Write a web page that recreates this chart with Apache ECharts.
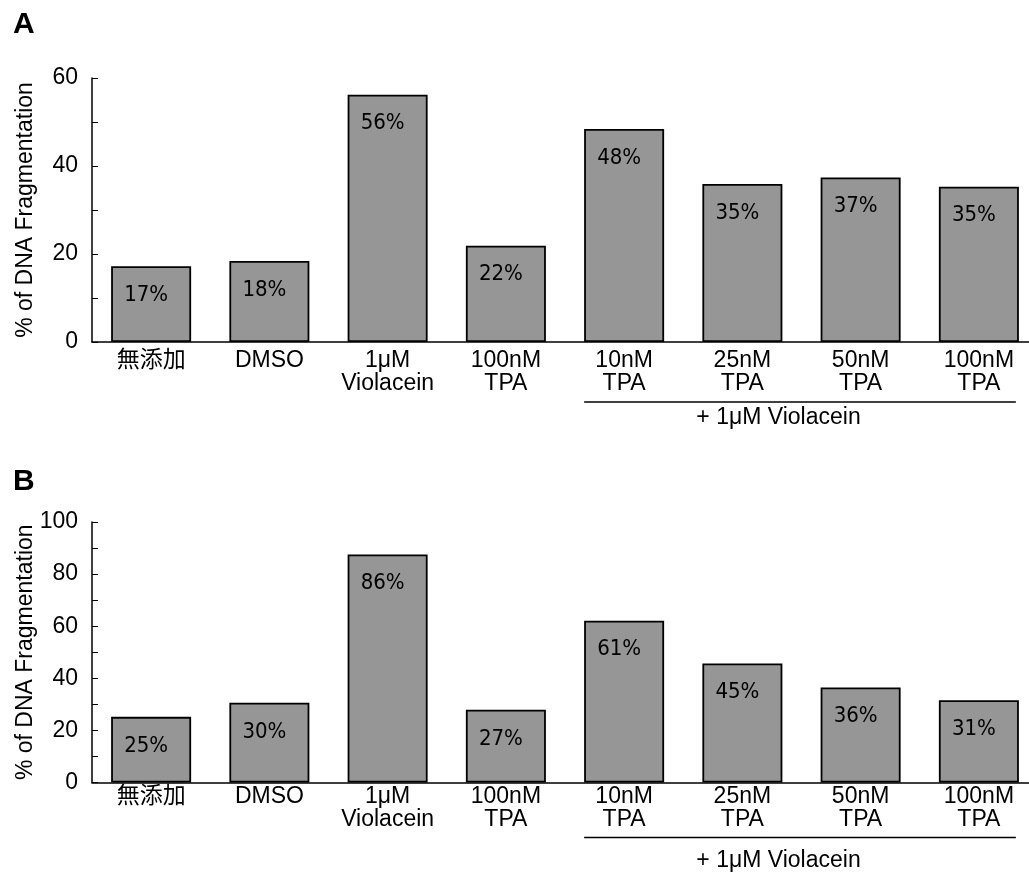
<!DOCTYPE html>
<html>
<head>
<meta charset="utf-8">
<script src="https://cdn.jsdelivr.net/npm/echarts@6/dist/echarts.min.js"></script>
<style>html,body{margin:0;padding:0;background:#fff;overflow:hidden;}#c{width:1040px;height:875px;}</style>
</head>
<body>
<div id="c"></div>
<script>
const categories = ['無添加', 'DMSO', '1μM\nViolacein', '100nM\nTPA', '10nM\nTPA', '25nM\nTPA', '50nM\nTPA', '100nM\nTPA'];
const valuesA = [17.2, 18.4, 56.2, 21.9, 48.4, 35.9, 37.4, 35.3];
const labelsA = ['17%', '18%', '56%', '22%', '48%', '35%', '37%', '35%'];
const valuesB = [25.2, 30.6, 87.5, 27.9, 62.1, 45.7, 36.5, 31.6];
const labelsB = ['25%', '30%', '86%', '27%', '61%', '45%', '36%', '31%'];
const yTitle = '% of DNA Fragmentation';
const groupText = '+ 1μM Violacein';

const FONT = "'Liberation Sans', Arial, 'Noto Sans CJK JP', sans-serif";
const NARROW = "'Liberation Sans Narrow', 'DejaVu Sans Condensed', 'Liberation Sans', sans-serif";

const chart = echarts.init(document.getElementById('c'), null, {renderer: 'canvas'});

function xAxis(gi, margin) {
  return {
    type: 'category', gridIndex: gi, data: categories,
    axisLine: {lineStyle: {color: '#000', width: 1.5}},
    axisTick: {show: false},
    axisLabel: {color: '#000', fontSize: 23, fontFamily: FONT, lineHeight: 23, margin: margin, interval: 0}
  };
}
function yAxis(gi, max) {
  return {
    type: 'value', gridIndex: gi, min: 0, max: max, interval: 10,
    name: yTitle, nameLocation: 'middle', nameGap: 55, nameMoveOverlap: false,
    nameTextStyle: {color: '#000', fontSize: 23, fontFamily: FONT},
    axisLine: {show: true, lineStyle: {color: '#000', width: 1.5}},
    axisTick: {show: true, inside: true, length: 6, lineStyle: {color: '#000', width: 1}},
    splitLine: {show: false},
    axisLabel: {color: '#000', fontSize: 23, fontFamily: FONT, margin: 14,
      formatter: v => (v % 20 === 0 ? String(v) : '')}
  };
}
function series(gi, vals, labs) {
  return {
    type: 'bar', xAxisIndex: gi, yAxisIndex: gi, data: vals, barWidth: 80,
    itemStyle: {color: '#969696', borderColor: '#000', borderWidth: 1.8},
    label: {show: true, position: 'insideTop', distance: 18, offset: [-5, 0], color: '#000',
      fontSize: 22, fontFamily: NARROW,
      formatter: p => labs[p.dataIndex]},
    silent: true
  };
}

chart.setOption({
  animation: false,
  backgroundColor: '#fff',
  title: [
    {text: 'A', left: 8, top: 5, textStyle: {fontSize: 30, fontWeight: 'bold', color: '#000', fontFamily: FONT}},
    {text: 'B', left: 8, top: 462, textStyle: {fontSize: 30, fontWeight: 'bold', color: '#000', fontFamily: FONT}}
  ],
  grid: [
    {left: 92, top: 78, width: 946, height: 264, outerBoundsMode: 'none', containLabel: false},
    {left: 92, top: 522, width: 946, height: 260.5, outerBoundsMode: 'none', containLabel: false}
  ],
  xAxis: [xAxis(0, 7), xAxis(1, 3)],
  yAxis: [yAxis(0, 60), yAxis(1, 100)],
  series: [series(0, valuesA, labelsA), series(1, valuesB, labelsB)]
});

function groupGraphic(gi, lineY, textY) {
  const x1 = chart.convertToPixel({xAxisIndex: gi}, categories[4]) - 40;
  const x2 = chart.convertToPixel({xAxisIndex: gi}, categories[7]) + 37;
  const tx = (chart.convertToPixel({xAxisIndex: gi}, categories[5]) + chart.convertToPixel({xAxisIndex: gi}, categories[6])) / 2 - 23;
  return [
    {type: 'line', shape: {x1: x1, y1: lineY, x2: x2, y2: lineY}, style: {stroke: '#000', lineWidth: 1.5}},
    {type: 'text', x: tx, y: textY, style: {text: groupText, fill: '#000', fontSize: 23, fontFamily: FONT, align: 'center', verticalAlign: 'middle'}}
  ];
}
chart.setOption({graphic: groupGraphic(0, 402, 418).concat(groupGraphic(1, 837.5, 861))});
</script>
</body>
</html>
